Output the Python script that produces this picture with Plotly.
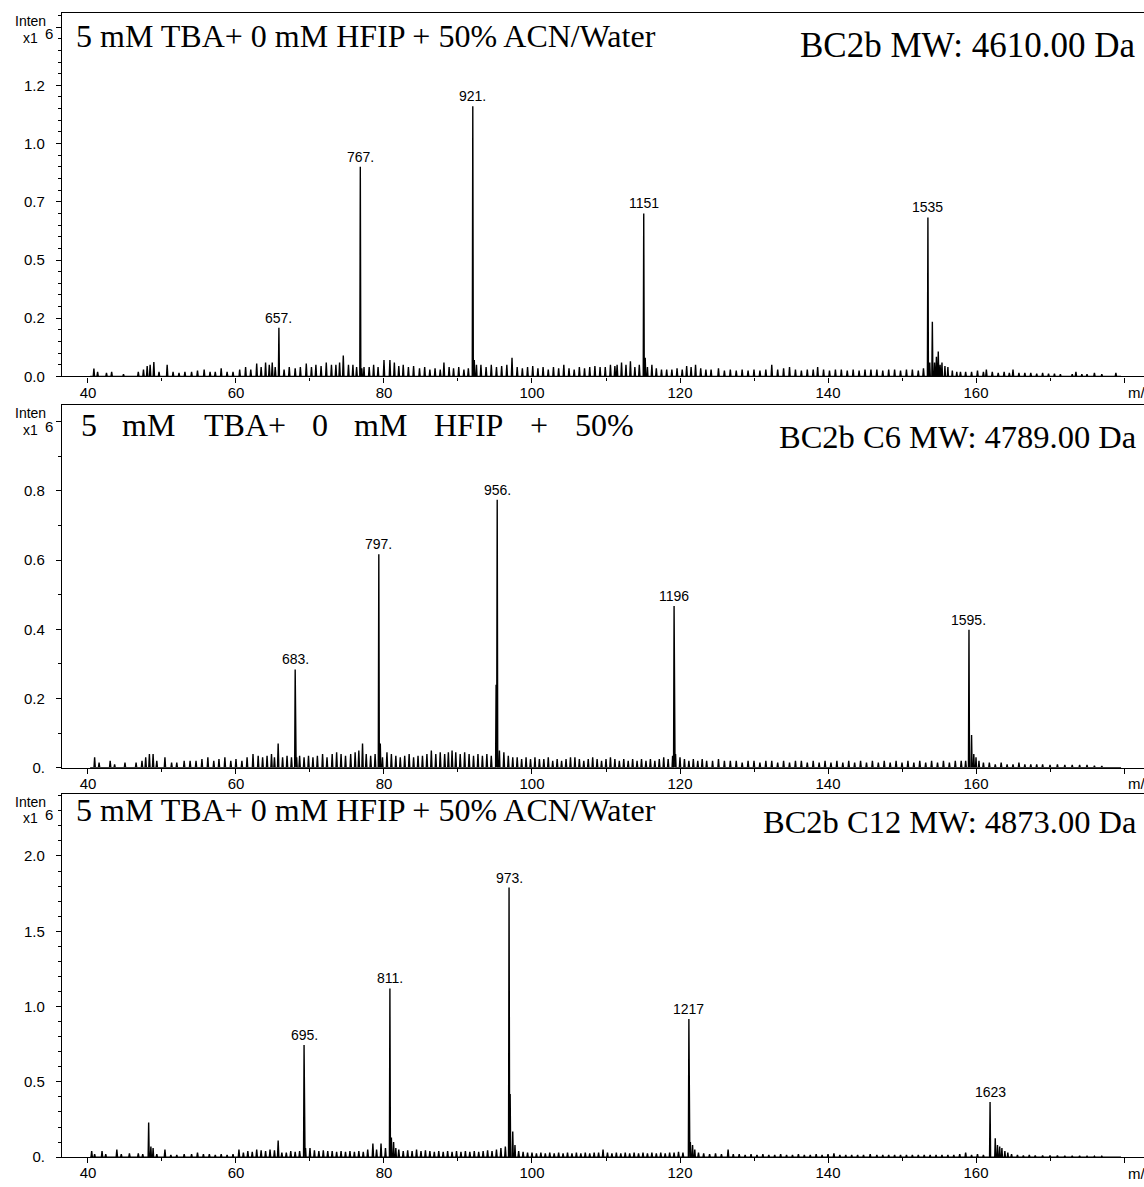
import plotly.graph_objects as go

W, H = 1144, 1187

# ---------------- data (intensity in x10^6, m/z shown /10 as on axis) ----------------
# Panel 1: BC2b
p1_peak_mz = [65.8, 76.8, 92.0, 115.1, 153.5]
p1_peak_int = [0.209, 0.90, 1.16, 0.70, 0.683]
p1_peak_lbl = ["657.", "767.", "921.", "1151", "1535"]
p1_minor_mz = [77.0, 77.3, 92.2, 92.5, 115.3, 115.6, 153.75, 154.1, 154.4, 154.65, 154.9, 155.15, 155.4, 155.8, 156.2, 156.8, 157.4]
p1_minor_int = [0.035, 0.04, 0.07, 0.05, 0.08, 0.04, 0.06, 0.235, 0.06, 0.085, 0.107, 0.05, 0.06, 0.045, 0.04, 0.025, 0.02]
p1_noise_mz = [40.8, 41.3, 42.5, 43.2, 44.8, 46.8, 47.5, 48.0, 48.4, 48.9, 49.6, 50.7, 51.5, 52.3, 53.1, 54.0, 54.8, 55.7, 56.5, 57.2,
               58.0, 58.8, 59.6, 60.5, 61.3, 62.0, 62.8, 63.4, 64.0, 64.5, 64.9, 65.3, 66.5, 67.2, 68.0, 68.7, 69.5, 70.2, 70.8, 71.5,
               72.2, 72.9, 73.5, 74.0, 74.5, 75.2, 75.8, 76.3, 78.0, 78.6, 79.2, 80.0, 80.8, 81.4, 82.0, 82.6, 83.3, 84.0, 84.8, 85.5,
               86.2, 86.9, 87.6, 88.1, 88.8, 89.4, 90.1, 90.8, 91.4, 93.1, 93.8, 94.5, 95.2, 95.9, 96.6, 97.3, 98.0, 98.7, 99.4, 100.1,
               100.8, 101.5, 102.2, 102.9, 103.6, 104.3, 105.0, 105.7, 106.4, 107.1, 107.8, 108.5, 109.2, 109.9, 110.6, 111.2, 111.5, 112.1, 112.7, 113.3,
               113.9, 114.5, 116.2, 116.8, 117.5, 118.2, 118.9, 119.6, 120.3, 120.9, 121.5, 122.1, 122.8, 123.5, 124.2, 125.2, 126.0, 126.8, 127.6, 128.4,
               129.2, 130.0, 130.8, 131.6, 132.4, 133.2, 134.0, 134.8, 135.6, 136.4, 137.2, 138.0, 138.6, 139.4, 140.2, 141.0, 141.8, 142.6, 143.4, 144.2,
               145.0, 145.8, 146.6, 147.4, 148.2, 149.0, 149.8, 150.6, 151.4, 152.2, 152.9, 157.9, 158.6, 159.4, 160.2, 161.0, 161.4, 162.2, 163.0, 163.8,
               164.5, 165.0, 165.8, 166.6, 167.4, 168.2, 169.0, 169.8, 170.6, 171.4, 173.0, 173.5, 174.3, 175.0, 176.0, 177.0, 178.9]
p1_noise_int = [0.034, 0.02, 0.015, 0.02, 0.01, 0.02, 0.03, 0.045, 0.05, 0.062, 0.02, 0.05, 0.02, 0.015, 0.02, 0.02, 0.025, 0.03, 0.02, 0.02,
                0.035, 0.02, 0.02, 0.03, 0.04, 0.03, 0.055, 0.04, 0.06, 0.05, 0.06, 0.04, 0.03, 0.04, 0.035, 0.04, 0.055, 0.04, 0.05, 0.045,
                0.06, 0.05, 0.05, 0.06, 0.09, 0.05, 0.05, 0.04, 0.04, 0.05, 0.04, 0.07, 0.07, 0.06, 0.045, 0.05, 0.04, 0.045, 0.035, 0.04,
                0.03, 0.035, 0.03, 0.06, 0.04, 0.035, 0.04, 0.03, 0.035, 0.05, 0.04, 0.05, 0.04, 0.045, 0.05, 0.08, 0.04, 0.035, 0.04, 0.045,
                0.035, 0.04, 0.03, 0.04, 0.035, 0.05, 0.035, 0.03, 0.04, 0.035, 0.04, 0.045, 0.04, 0.04, 0.05, 0.045, 0.05, 0.06, 0.05, 0.065,
                0.04, 0.05, 0.05, 0.035, 0.03, 0.03, 0.03, 0.035, 0.03, 0.045, 0.04, 0.05, 0.035, 0.03, 0.03, 0.035, 0.025, 0.03, 0.025, 0.03,
                0.025, 0.03, 0.025, 0.03, 0.05, 0.03, 0.035, 0.04, 0.03, 0.025, 0.03, 0.03, 0.04, 0.03, 0.025, 0.03, 0.03, 0.025, 0.03, 0.025,
                0.03, 0.03, 0.03, 0.025, 0.03, 0.03, 0.025, 0.03, 0.03, 0.025, 0.035, 0.02, 0.02, 0.02, 0.025, 0.02, 0.03, 0.02, 0.015, 0.02,
                0.015, 0.03, 0.015, 0.015, 0.015, 0.012, 0.015, 0.012, 0.012, 0.01, 0.01, 0.02, 0.01, 0.01, 0.015, 0.01, 0.015]

# Panel 2: BC2b C6
p2_peak_mz = [68.0, 79.3, 95.3, 119.2, 159.05]
p2_peak_int = [0.284, 0.617, 0.774, 0.467, 0.399]
p2_peak_lbl = ["683.", "797.", "956.", "1196", "1595."]
p2_minor_mz = [68.2, 79.5, 79.8, 95.15, 95.6, 119.0, 119.4, 159.4, 159.7, 160.0, 160.4]
p2_minor_int = [0.03, 0.07, 0.03, 0.24, 0.05, 0.035, 0.04, 0.095, 0.04, 0.03, 0.02]
p2_noise_mz = [40.9, 41.5, 43.0, 43.6, 45.0, 46.5, 47.3, 47.8, 48.3, 48.8, 49.3, 50.4, 51.3, 52.0, 53.0, 53.8, 54.6, 55.4, 56.2, 57.0,
               57.7, 58.5, 59.3, 60.0, 60.8, 61.5, 62.3, 63.0, 63.6, 64.2, 64.8, 65.2, 65.7, 66.3, 66.9, 67.5, 68.6, 69.2, 69.8, 70.4,
               71.0, 71.7, 72.3, 73.0, 73.6, 74.2, 74.8, 75.5, 76.1, 76.6, 77.1, 77.6, 78.2, 78.8, 80.4, 81.0, 81.6, 82.2, 82.8, 83.4,
               84.0, 84.6, 85.2, 85.8, 86.4, 87.0, 87.6, 88.2, 88.7, 89.2, 89.7, 90.3, 90.9, 91.5, 92.1, 92.7, 93.3, 93.9, 94.5, 96.2,
               96.8, 97.4, 98.0, 98.6, 99.2, 99.8, 100.4, 101.0, 101.6, 102.2, 102.8, 103.4, 104.0, 104.6, 105.2, 105.8, 106.4, 107.0, 107.6, 108.2,
               108.8, 109.4, 110.0, 110.6, 111.2, 111.8, 112.4, 113.0, 113.6, 114.2, 114.8, 115.4, 116.0, 116.6, 117.2, 117.8, 118.4, 120.0, 120.6, 121.2,
               121.8, 122.4, 123.0, 123.6, 124.4, 125.2, 126.0, 126.8, 127.6, 128.4, 129.2, 130.0, 130.8, 131.6, 132.4, 133.2, 134.0, 134.8, 135.6, 136.4,
               137.2, 138.0, 138.8, 139.6, 140.4, 141.2, 142.0, 142.8, 143.6, 144.4, 145.2, 146.0, 146.8, 147.6, 148.4, 149.2, 150.0, 150.8, 151.6, 152.4,
               153.2, 154.0, 154.8, 155.6, 156.4, 157.2, 158.0, 158.6, 161.0, 161.8, 162.6, 163.4, 164.2, 165.0, 165.8, 166.6, 167.4, 168.2, 169.0, 170.0,
               171.0, 172.0, 173.0, 174.0, 175.0, 176.0, 177.0]
p2_noise_int = [0.03, 0.015, 0.02, 0.01, 0.015, 0.015, 0.02, 0.03, 0.04, 0.04, 0.02, 0.03, 0.015, 0.015, 0.02, 0.02, 0.02, 0.025, 0.03, 0.02,
                0.025, 0.03, 0.02, 0.025, 0.02, 0.03, 0.04, 0.035, 0.03, 0.035, 0.04, 0.03, 0.07, 0.03, 0.035, 0.03, 0.035, 0.03, 0.035, 0.03,
                0.035, 0.04, 0.03, 0.04, 0.045, 0.04, 0.035, 0.04, 0.045, 0.05, 0.07, 0.04, 0.035, 0.04, 0.045, 0.04, 0.035, 0.03, 0.035, 0.04,
                0.03, 0.035, 0.035, 0.04, 0.05, 0.04, 0.045, 0.04, 0.045, 0.05, 0.045, 0.04, 0.045, 0.04, 0.035, 0.04, 0.035, 0.04, 0.035, 0.045,
                0.035, 0.03, 0.03, 0.025, 0.03, 0.025, 0.03, 0.025, 0.025, 0.03, 0.02, 0.025, 0.02, 0.025, 0.03, 0.03, 0.025, 0.02, 0.025, 0.03,
                0.025, 0.02, 0.025, 0.03, 0.025, 0.02, 0.025, 0.02, 0.025, 0.02, 0.025, 0.02, 0.025, 0.02, 0.025, 0.03, 0.025, 0.03, 0.025, 0.02,
                0.025, 0.02, 0.025, 0.02, 0.02, 0.025, 0.02, 0.02, 0.02, 0.015, 0.02, 0.02, 0.015, 0.02, 0.02, 0.015, 0.02, 0.015, 0.02, 0.02,
                0.015, 0.02, 0.015, 0.02, 0.015, 0.02, 0.015, 0.02, 0.015, 0.02, 0.015, 0.02, 0.015, 0.02, 0.015, 0.02, 0.015, 0.02, 0.015, 0.02,
                0.015, 0.02, 0.015, 0.02, 0.015, 0.02, 0.02, 0.02, 0.015, 0.015, 0.01, 0.015, 0.01, 0.01, 0.015, 0.01, 0.01, 0.01, 0.01, 0.008,
                0.01, 0.008, 0.008, 0.008, 0.008, 0.006, 0.005]

# Panel 3: BC2b C12
p3_peak_mz = [48.2, 69.2, 80.8, 96.9, 121.2, 161.9]
p3_peak_int = [0.23, 0.745, 1.12, 1.79, 0.917, 0.367]
p3_peak_lbl = ["", "695.", "811.", "973.", "1217", "1623"]
p3_minor_mz = [48.5, 48.8, 69.4, 81.0, 81.3, 81.6, 97.05, 97.4, 97.7, 121.4, 121.7, 122.0, 162.6, 162.9, 163.2, 163.5, 163.9, 164.3]
p3_minor_int = [0.07, 0.06, 0.06, 0.13, 0.1, 0.06, 0.42, 0.17, 0.08, 0.1, 0.08, 0.05, 0.125, 0.08, 0.07, 0.06, 0.04, 0.03]
p3_noise_mz = [40.5, 40.9, 41.9, 42.4, 43.9, 44.5, 45.6, 46.8, 47.4, 49.3, 50.4, 51.2, 52.0, 53.0, 54.0, 54.8, 55.6, 56.4, 57.2, 58.0,
               58.8, 59.6, 60.4, 61.0, 61.6, 62.2, 62.8, 63.4, 64.0, 64.6, 65.2, 65.7, 66.2, 66.8, 67.4, 68.0, 68.6, 70.0, 70.6, 71.2,
               71.8, 72.4, 73.0, 73.6, 74.2, 74.8, 75.4, 76.0, 76.6, 77.2, 77.8, 78.5, 79.0, 79.6, 80.2, 82.0, 82.6, 83.2, 83.8, 84.4,
               85.0, 85.6, 86.2, 86.8, 87.4, 88.0, 88.6, 89.2, 89.8, 90.4, 91.0, 91.6, 92.2, 92.8, 93.4, 94.0, 94.6, 95.2, 95.8, 96.4,
               98.2, 98.8, 99.4, 100.0, 100.6, 101.2, 101.8, 102.4, 103.0, 103.6, 104.2, 104.8, 105.4, 106.0, 106.6, 107.2, 107.8, 108.4, 109.0, 109.6,
               110.2, 110.8, 111.4, 112.0, 112.6, 113.2, 113.8, 114.4, 115.0, 115.6, 116.2, 116.8, 117.4, 118.0, 118.6, 119.2, 119.8, 120.4, 122.5, 123.2,
               124.0, 124.8, 125.6, 126.5, 127.2, 128.0, 128.8, 129.6, 130.4, 131.2, 132.0, 132.8, 133.6, 134.4, 135.2, 136.0, 136.8, 137.6, 138.4, 139.2,
               140.0, 140.8, 141.6, 142.4, 143.2, 144.0, 144.8, 145.7, 146.6, 147.4, 148.2, 149.0, 149.8, 150.6, 151.4, 152.2, 153.0, 153.8, 154.6, 155.4,
               156.2, 157.0, 157.8, 158.6, 159.4, 160.2, 161.0, 164.8, 165.6, 166.4, 167.2, 168.0, 169.0, 170.0, 171.0, 172.0, 173.0, 174.0, 175.0, 176.0,
               177.0]
p3_noise_int = [0.04, 0.02, 0.04, 0.02, 0.05, 0.02, 0.025, 0.025, 0.02, 0.02, 0.05, 0.015, 0.015, 0.02, 0.02, 0.03, 0.02, 0.02, 0.015, 0.02,
                0.015, 0.02, 0.05, 0.03, 0.04, 0.035, 0.05, 0.045, 0.04, 0.05, 0.045, 0.11, 0.03, 0.03, 0.04, 0.035, 0.04, 0.06, 0.045, 0.04,
                0.045, 0.04, 0.04, 0.035, 0.04, 0.035, 0.04, 0.035, 0.04, 0.035, 0.05, 0.09, 0.05, 0.09, 0.06, 0.05, 0.04, 0.045, 0.04, 0.05,
                0.04, 0.045, 0.04, 0.035, 0.04, 0.035, 0.04, 0.035, 0.04, 0.035, 0.04, 0.035, 0.04, 0.035, 0.04, 0.045, 0.04, 0.05, 0.06, 0.07,
                0.04, 0.035, 0.03, 0.03, 0.025, 0.03, 0.025, 0.03, 0.025, 0.03, 0.025, 0.03, 0.025, 0.03, 0.025, 0.03, 0.025, 0.03, 0.03, 0.05,
                0.03, 0.025, 0.03, 0.025, 0.03, 0.025, 0.03, 0.025, 0.03, 0.025, 0.03, 0.025, 0.03, 0.025, 0.03, 0.03, 0.035, 0.03, 0.03, 0.025,
                0.02, 0.025, 0.02, 0.05, 0.02, 0.02, 0.015, 0.02, 0.015, 0.02, 0.015, 0.015, 0.02, 0.015, 0.015, 0.02, 0.015, 0.015, 0.02, 0.015,
                0.02, 0.025, 0.015, 0.015, 0.015, 0.015, 0.015, 0.02, 0.015, 0.015, 0.015, 0.015, 0.015, 0.015, 0.015, 0.015, 0.015, 0.015, 0.015, 0.015,
                0.015, 0.015, 0.02, 0.03, 0.015, 0.02, 0.015, 0.02, 0.015, 0.01, 0.015, 0.01, 0.01, 0.01, 0.01, 0.008, 0.008, 0.008, 0.006, 0.006, 0.006,
                0.005]

p1_left_title = ["5 mM TBA+ 0 mM HFIP + 50% ACN/Water"]
p1_right_title = "BC2b MW: 4610.00 Da"
p2_left_title = ["5", "mM", "TBA+", "0", "mM", "HFIP", "+", "50%"]
p2_right_title = "BC2b C6 MW: 4789.00 Da"
p3_left_title = ["5 mM TBA+ 0 mM HFIP + 50% ACN/Water"]
p3_right_title = "BC2b C12 MW: 4873.00 Da"

x_tickvals = [40, 60, 80, 100, 120, 140, 160, 180]
x_ticktext = ["40", "60", "80", "100", "120", "140", "160", ""]
p1_ytickvals = [0, 0.25, 0.5, 0.75, 1.0, 1.25, 1.5]
p1_yticktext = ["0.0", "0.2", "0.5", "0.7", "1.0", "1.2", ""]
p2_ytickvals = [0, 0.2, 0.4, 0.6, 0.8, 1.0]
p2_yticktext = ["0.", "0.2", "0.4", "0.6", "0.8", ""]
p3_ytickvals = [0, 0.5, 1.0, 1.5, 2.0]
p3_yticktext = ["0.", "0.5", "1.0", "1.5", "2.0"]

# ---------------- layout geometry (pixels) ----------------
X_LEFT = 62
panels = [
    dict(top=13, bot=379, ymax=1.561),
    dict(top=408, bot=773, ymax=1.047),
    dict(top=799, bot=1165, ymax=2.414),
]
XRANGE = [36.49, 182.7]
# word start positions for the justified title of panel 2 (pixels)
p2_word_x = [81, 122, 204, 312, 354, 434, 530, 575]


def px(x):
    return x / W


def py(y):
    return 1 - y / H


def profile(peaks_mz, peaks_int, minor_mz, minor_int, noise_mz, noise_int):
    items = []
    for m, h in zip(peaks_mz, peaks_int):
        items.append((m, h, 0.07))
    for m, h in zip(minor_mz, minor_int):
        items.append((m, h, 0.07))
    for m, h in zip(noise_mz, noise_int):
        items.append((m, h, 0.09))
    items.sort()
    xs, ys = [XRANGE[0] + 3.8], [0]
    for m, h, w in items:
        xs += [m - w, m, m + w]
        ys += [0, h, 0]
    xs.append(179.6)
    ys.append(0)
    return xs, ys


data_sets = [
    (p1_peak_mz, p1_peak_int, p1_peak_lbl, p1_minor_mz, p1_minor_int, p1_noise_mz, p1_noise_int,
     p1_ytickvals, p1_yticktext, 0.05, p1_left_title, p1_right_title),
    (p2_peak_mz, p2_peak_int, p2_peak_lbl, p2_minor_mz, p2_minor_int, p2_noise_mz, p2_noise_int,
     p2_ytickvals, p2_yticktext, 0.1, p2_left_title, p2_right_title),
    (p3_peak_mz, p3_peak_int, p3_peak_lbl, p3_minor_mz, p3_minor_int, p3_noise_mz, p3_noise_int,
     p3_ytickvals, p3_yticktext, 0.1, p3_left_title, p3_right_title),
]

fig = go.Figure()
annotations = []
layout_axes = {}
SANS = "Liberation Sans, Arial, sans-serif"
SERIF = "Liberation Serif, Times New Roman, serif"

left_title_y = [36, 428, 815]
right_title_y = [46, 440, 828]
right_title_size = [35, 32.5, 32.5]

for i, (pm, pi, pl, mm, mi, nm, ni, ytv, ytt, ydt, lt, rt) in enumerate(data_sets):
    k = "" if i == 0 else str(i + 1)
    xs, ys = profile(pm, pi, mm, mi, nm, ni)
    fig.add_trace(go.Scatter(x=xs, y=ys, mode="lines", xaxis="x" + k, yaxis="y" + k,
                             line=dict(color="black", width=1.4), hoverinfo="skip",
                             showlegend=False))
    P = panels[i]
    layout_axes["xaxis" + k] = dict(
        domain=[px(X_LEFT), 1], anchor="y" + k, range=XRANGE,
        showline=True, linecolor="black", linewidth=1.2, mirror=True,
        ticks="outside", ticklen=5, tickcolor="black", tickwidth=1,
        tickmode="array", tickvals=x_tickvals, ticktext=x_ticktext,
        minor=dict(tickmode="linear", tick0=0, dtick=10, ticks="outside", ticklen=3, tickcolor="black"),
        showgrid=False, zeroline=False, ticklabelstandoff=-3,
        tickfont=dict(family=SANS, size=15, color="black"),
    )
    layout_axes["yaxis" + k] = dict(
        domain=[py(P["bot"]), py(P["top"])], anchor="x" + k, range=[0, P["ymax"]],
        showline=True, linecolor="black", linewidth=1.2,
        ticks="outside", ticklen=5, tickcolor="black", tickwidth=1,
        tickmode="array", tickvals=ytv, ticktext=ytt,
        minor=dict(tickmode="linear", tick0=0, dtick=ydt, ticks="outside", ticklen=3, tickcolor="black"),
        showgrid=False, zeroline=False, ticklabelstandoff=8,
        tickfont=dict(family=SANS, size=15, color="black"),
    )
    for m, h, lab in zip(pm, pi, pl):
        if lab:
            annotations.append(dict(x=m, y=h, xref="x" + k, yref="y" + k, text=lab, showarrow=False,
                                    yanchor="bottom", xanchor="center", yshift=0,
                                    font=dict(family=SANS, size=14, color="black")))
    annotations.append(dict(x=px(30), y=py(P["top"] + 8), xref="paper", yref="paper", text="Inten",
                            showarrow=False, xanchor="center", yanchor="middle",
                            font=dict(family=SANS, size=14, color="black")))
    annotations.append(dict(x=px(30), y=py(P["top"] + 25), xref="paper", yref="paper", text="x1",
                            showarrow=False, xanchor="center", yanchor="middle",
                            font=dict(family=SANS, size=14, color="black")))
    annotations.append(dict(x=px(48.5), y=py(P["top"] + 21), xref="paper", yref="paper", text="6",
                            showarrow=False, xanchor="center", yanchor="middle",
                            font=dict(family=SANS, size=15, color="black")))
    annotations.append(dict(x=px(1126), y=py(P["bot"] + 16), xref="paper", yref="paper", text="m/",
                            showarrow=False, xanchor="left", yanchor="middle",
                            font=dict(family=SANS, size=15, color="black")))
    if len(lt) == 1:
        annotations.append(dict(x=px(74), y=py(left_title_y[i]), xref="paper", yref="paper", text=lt[0],
                                showarrow=False, xanchor="left", yanchor="middle",
                                font=dict(family=SERIF, size=32, color="black")))
    else:
        for word, wx in zip(lt, p2_word_x):
            annotations.append(dict(x=px(wx - 2), y=py(left_title_y[i]), xref="paper", yref="paper",
                                    text=word, showarrow=False, xanchor="left", yanchor="middle",
                                    font=dict(family=SERIF, size=32, color="black")))
    annotations.append(dict(x=px(1138), y=py(right_title_y[i]), xref="paper", yref="paper", text=rt,
                            showarrow=False, xanchor="right", yanchor="middle",
                            font=dict(family=SERIF, size=right_title_size[i], color="black")))

fig.update_layout(
    width=W, height=H,
    margin=dict(l=0, r=0, t=0, b=0),
    paper_bgcolor="white", plot_bgcolor="white",
    annotations=annotations,
    showlegend=False,
    **layout_axes,
)

fig.write_html("out.html")
